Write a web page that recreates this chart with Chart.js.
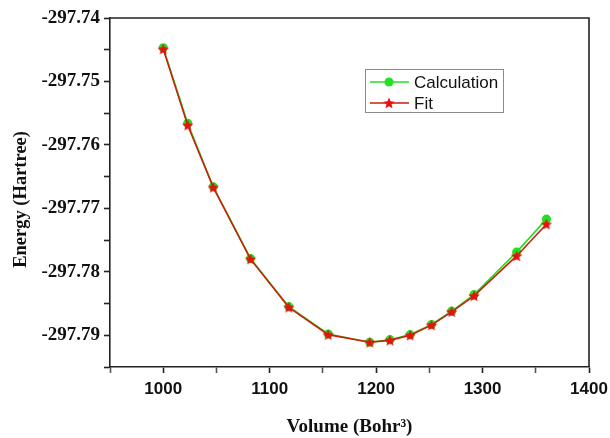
<!DOCTYPE html>
<html>
<head>
<meta charset="utf-8">
<script src="https://cdn.jsdelivr.net/npm/chart.js@4.4.0/dist/chart.umd.min.js"></script>
<style>
  html, body { margin: 0; padding: 0; background: #fff; }
  #wrap { width: 610px; height: 438px; }
</style>
</head>
<body>
<div id="wrap"><canvas id="MyChart" width="610" height="438"></canvas></div>
<script>
// valores
const volumen = [1000, 1023, 1047, 1082, 1118, 1155, 1194, 1213, 1232, 1252, 1271, 1292, 1332, 1360]
const calculo = [-297.7447, -297.7566, -297.7666, -297.7779, -297.7855, -297.7898, -297.7911, -297.7907, -297.7899, -297.7883, -297.7862, -297.7836, -297.7769, -297.7717]
const ajuste  = [-297.7449, -297.7569, -297.7667, -297.7780, -297.7856, -297.7899, -297.7911, -297.7908, -297.7900, -297.7884, -297.7863, -297.7838, -297.7775, -297.7725]
const xTicks = [1000, 1100, 1200, 1300, 1400]
const yTicks = [-297.74, -297.75, -297.76, -297.77, -297.78, -297.79]

const verde = '#22e022'
const rojo = '#e81010'
const lineaRoja = '#c8200a'
const eje = '#222'

// estrella rellena para el marcador del Fit
function hacerEstrella(r, color) {
  const c = document.createElement('canvas')
  c.width = r * 2 + 2
  c.height = r * 2 + 2
  const g = c.getContext('2d')
  g.fillStyle = color
  g.beginPath()
  for (let i = 0; i < 10; i++) {
    const rr = i % 2 === 0 ? r : r * 0.45
    const a = -Math.PI / 2 + i * Math.PI / 5
    const px = c.width / 2 + rr * Math.cos(a)
    const py = c.height / 2 + rr * Math.sin(a) + 0.5
    if (i === 0) g.moveTo(px, py); else g.lineTo(px, py)
  }
  g.closePath()
  g.fill()
  return c
}
const estrella = hacerEstrella(6, rojo)

const sansFont = "'Liberation Sans', Arial, sans-serif"
const serifFont = "'Liberation Serif', 'Times New Roman', serif"

// marco superior/derecho y leyenda dentro del area
const marco = {
  id: 'marco',
  afterDraw(chart) {
    const { ctx, chartArea: a } = chart
    ctx.save()
    ctx.strokeStyle = eje
    ctx.lineWidth = 1.6
    ctx.beginPath()
    ctx.moveTo(a.left, a.top)
    ctx.lineTo(a.right, a.top)
    ctx.lineTo(a.right, a.bottom)
    ctx.stroke()

    // leyenda
    const bx = 365, by = 69, bw = 138, bh = 43
    ctx.strokeStyle = '#8a8a8a'
    ctx.lineWidth = 1
    ctx.strokeRect(bx + 0.5, by + 0.5, bw, bh)
    const ds = chart.data.datasets
    ds.forEach((d, i) => {
      const y = by + 13 + i * 21
      ctx.strokeStyle = d.borderColor
      ctx.lineWidth = 1.6
      ctx.beginPath()
      ctx.moveTo(bx + 5, y)
      ctx.lineTo(bx + 44, y)
      ctx.stroke()
      if (i === 0) {
        ctx.fillStyle = d.pointBackgroundColor
        ctx.beginPath()
        ctx.arc(bx + 24, y, 4.5, 0, Math.PI * 2)
        ctx.fill()
      } else {
        ctx.drawImage(estrella, bx + 24 - estrella.width / 2, y - estrella.height / 2)
      }
      ctx.fillStyle = '#111'
      ctx.font = '17px ' + sansFont
      ctx.textBaseline = 'middle'
      ctx.textAlign = 'left'
      ctx.fillText(d.label, bx + 49, y + 1)
    })
    ctx.restore()
  }
}

const ctx = document.getElementById('MyChart')

const myChart = new Chart(ctx, {
  type: 'line',
  data: {
    datasets: [{
      label: 'Calculation',
      data: volumen.map((v, i) => ({ x: v, y: calculo[i] })),
      order: 1,
      borderColor: verde,
      backgroundColor: verde,
      pointBackgroundColor: verde,
      pointBorderColor: verde,
      pointRadius: 3.8,
      pointStyle: 'circle',
      borderWidth: 1.6,
      tension: 0
    }, {
      label: 'Fit',
      data: volumen.map((v, i) => ({ x: v, y: ajuste[i] })),
      order: 0,
      borderColor: lineaRoja,
      backgroundColor: rojo,
      pointBackgroundColor: rojo,
      pointStyle: estrella,
      borderWidth: 1.6,
      tension: 0
    }]
  },
  options: {
    responsive: false,
    animation: false,
    events: [],
    layout: { padding: { top: 18, right: 21, left: 0, bottom: 0 } },
    plugins: {
      legend: { display: false },
      tooltip: { enabled: false }
    },
    scales: {
      x: {
        type: 'linear',
        min: 950,
        max: 1400,
        afterFit(s) {
          s.height = 71
          s.paddingRight = 0
          s.paddingLeft = 0
        },
        afterBuildTicks(s) {
          const t = []
          for (let v = 950; v <= 1400; v += 50) t.push({ value: v })
          s.ticks = t
        },
        ticks: {
          padding: 6,
          maxRotation: 0,
          autoSkip: false,
          color: '#111',
          font: { family: sansFont, size: 17, weight: 'bold' },
          callback: v => xTicks.includes(v) ? String(v) : ''
        },
        grid: {
          drawOnChartArea: false,
          tickLength: 6,
          tickWidth: 1.6,
          tickColor: c => (c.tick && xTicks.includes(c.tick.value)) ? eje : '#555'
        },
        border: { color: eje, width: 1.6 },
        title: {
          display: true,
          text: 'Volume (Bohr³)',
          color: '#111',
          font: { family: serifFont, size: 19, weight: 'bold' },
          padding: { top: 0, bottom: 0 }
        }
      },
      y: {
        min: -297.795,
        max: -297.74,
        afterFit(s) { s.width = 110 },
        afterBuildTicks(s) {
          const t = []
          for (let k = 0; k <= 11; k++) t.push({ value: -297.795 + k * 0.005 })
          s.ticks = t
        },
        ticks: {
          padding: 4,
          autoSkip: false,
          color: '#111',
          font: { family: serifFont, size: 19, weight: 'bold' },
          callback: v => {
            const m = yTicks.find(t => Math.abs(t - v) < 1e-6)
            return m !== undefined ? m.toFixed(2) : ''
          }
        },
        grid: {
          drawOnChartArea: false,
          tickLength: 6,
          tickWidth: 1.6,
          tickColor: eje
        },
        border: { color: eje, width: 1.6 },
        title: {
          display: true,
          text: 'Energy (Hartree)   ',
          color: '#111',
          font: { family: serifFont, size: 18.5, weight: 'bold' },
          padding: { top: 10, bottom: 0 }
        }
      }
    }
  },
  plugins: [marco]
})
</script>
</body>
</html>
